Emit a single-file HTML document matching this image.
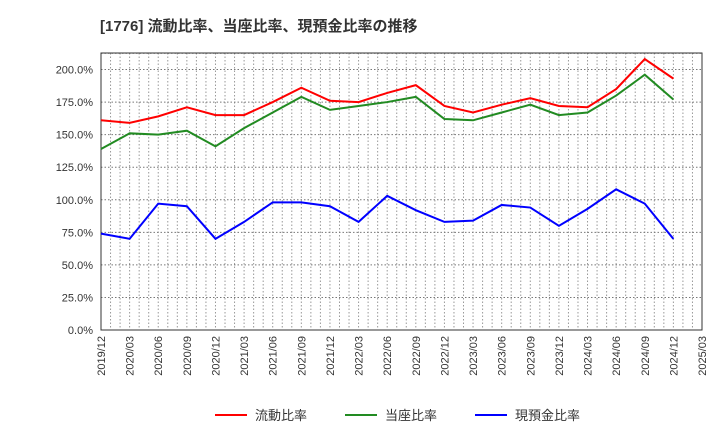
<!DOCTYPE html>
<html><head><meta charset="utf-8">
<style>
body{margin:0;background:#fff;font-family:"Liberation Sans","Noto Sans CJK JP",sans-serif;}
svg text{font-family:"Liberation Sans","Noto Sans CJK JP",sans-serif;}
</style></head><body>
<svg id="chart" width="720" height="440" xmlns="http://www.w3.org/2000/svg">
<text x="100" y="31" font-size="15" font-weight="bold" fill="#333">[1776]  流動比率、当座比率、現預金比率の推移</text>
<g id="grid"></g><g id="axes"></g><g id="series"></g>
<g id="legend"></g>
</svg>
<script>
const categories=["2019/12","2020/03","2020/06","2020/09","2020/12","2021/03","2021/06","2021/09","2021/12","2022/03","2022/06","2022/09","2022/12","2023/03","2023/06","2023/09","2023/12","2024/03","2024/06","2024/09","2024/12","2025/03"];
const currentRatio=[161,159,164,171,165,165,175,186,176,175,182,188,172,167,173,178,172,171,185,208,193];
const quickRatio=[139,151,150,153,141,155,167,179,169,172,175,179,162,161,167,173,165,167,180,196,177];
const cashRatio=[74,70,97,95,70,83,98,98,95,83,103,92,83,84,96,94,80,93,108,97,70];
const yTicks=[0,25,50,75,100,125,150,175,200];
const seriesNames=["流動比率","当座比率","現預金比率"];
const L=101,R=702,T=53,B=330;
const xs=i=>L+(R-L)*i/(categories.length-1);
const ys=v=>B-(B-69.5)*v/200;
const NS="http://www.w3.org/2000/svg";
function mk(tag,attrs,parent){const e=document.createElementNS(NS,tag);for(const k in attrs)e.setAttribute(k,attrs[k]);parent.appendChild(e);return e;}
const grid=document.getElementById('grid'),axes=document.getElementById('axes'),ser=document.getElementById('series'),leg=document.getElementById('legend');
const months=(categories.length-1)*3;
for(let m=1;m<months;m++){const x=L+(R-L)*m/months;
 const g=mk('line',{x1:x,x2:x,y1:T,y2:B,stroke:'#999','stroke-dasharray':'1.5,2','stroke-width':1},grid);
 
 }
for(const t of yTicks.concat([212.5])){const y=ys(t);if(t===0)continue;
 const g=mk('line',{x1:L,x2:R,y1:y,y2:y,stroke:'#777','stroke-dasharray':'1.5,2','stroke-width':1},grid);
 
 }
const frame=mk('rect',{x:L,y:T,width:R-L,height:B-T,fill:'none',stroke:'#333','stroke-width':1},axes);


yTicks.forEach(t=>{const tx=mk('text',{x:L-8,y:ys(t)+4,'text-anchor':'end','font-size':11,fill:'#333'},axes);tx.textContent=t.toFixed(1)+'%';
 
 });
categories.forEach((c,i)=>{const x=xs(i);const tx=mk('text',{x:x+4,y:336,'text-anchor':'end','font-size':11,fill:'#333',transform:`rotate(-90 ${x+4} 336)`},axes);tx.textContent=c;
 
 });
const colors=['#ff0000','#228b22','#0000ff'];
[currentRatio,quickRatio,cashRatio].forEach((d,k)=>{
 const p=mk('polyline',{points:d.map((v,i)=>xs(i)+','+ys(v)).join(' '),fill:'none',stroke:colors[k],'stroke-width':2},ser);
 
 });
const lx=[215,345,475];
seriesNames.forEach((n,k)=>{const g=mk('g',{},leg);
 
 
 mk('line',{x1:lx[k],x2:lx[k]+32,y1:415,y2:415,stroke:colors[k],'stroke-width':2},g);
 const t=mk('text',{x:lx[k]+40,y:420,'font-size':13,fill:'#333'},g);t.textContent=n;});
</script>
</body></html>
